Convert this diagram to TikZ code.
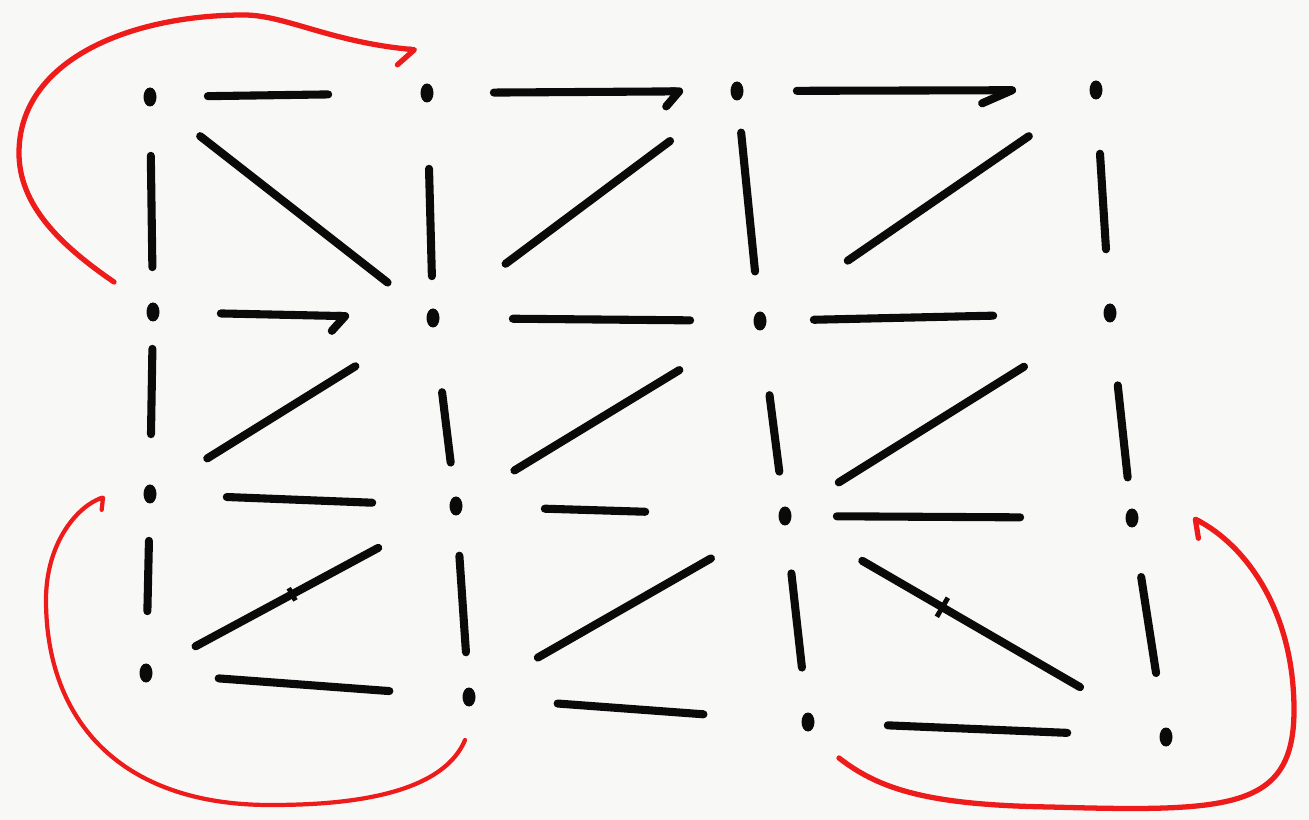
\documentclass[tikz,border=0pt]{standalone}
\usepackage{xcolor}
\definecolor{cInk}{HTML}{0A0A0A}
\definecolor{cPen}{HTML}{EE1B1B}
\definecolor{cPaper}{HTML}{F8F8F7}
\usepackage{tikz}
\usetikzlibrary{arrows.meta,shapes.geometric}
\tikzset{
  node-dot/.style={ellipse,fill=cInk,inner sep=0pt,
    minimum width=2.6mm,minimum height=3.8mm},
  % gaps at both ends in sketch pixels (1px = 0.2mm)
  edge-line/.style 2 args={draw=cInk,line width=4.6pt,line cap=round,
    shorten <={#1*0.2mm},shorten >={#2*0.2mm}},
  tip-hook/.style={-{Straight Barb[right,round,length=2.6mm,width=6mm]}},
  tip-barb/.style={-{Straight Barb[right,round,length=6mm,width=5.2mm]}},
  tick-mark/.style={sloped,draw=cInk,line width=2.8pt,inner sep=0pt,
    minimum width=0pt,minimum height=4.4mm},
  arc-red/.style={draw=cPen,line width=3pt,line cap=round},
}

\begin{document}
\begin{tikzpicture}[x=0.2mm,y=-0.2mm]
  \useasboundingbox (0,0) rectangle (1309,820);
  \fill[cPaper] (0,0) rectangle (1309,820);

  \node[node-dot] (d11) at (150,97) {};
  \node[node-dot] (d12) at (427,93) {};
  \node[node-dot] (d13) at (737,91) {};
  \node[node-dot] (d14) at (1096,90) {};
  \node[node-dot] (d21) at (153,312) {};
  \node[node-dot] (d22) at (433,318) {};
  \node[node-dot] (d23) at (760,321) {};
  \node[node-dot] (d24) at (1110,313) {};
  \node[node-dot] (d31) at (150,494) {};
  \node[node-dot] (d32) at (456,506) {};
  \node[node-dot] (d33) at (785,516) {};
  \node[node-dot] (d34) at (1132,518) {};
  \node[node-dot] (d41) at (146,673) {};
  \node[node-dot] (d42) at (469,697) {};
  \node[node-dot] (d43) at (808,722) {};
  \node[node-dot] (d44) at (1166,737) {};

  % rows
  \draw[edge-line={51}{92}] (d11) -- (d12);
  \draw[edge-line={60}{47},tip-hook] (d12) -- (d13);
  \draw[edge-line={53}{73},tip-barb] (d13) -- (d14);
  \draw[edge-line={61}{77},tip-hook] (d21) -- (d22);
  \draw[edge-line={73}{63}] (d22) -- (d23);
  \draw[edge-line={47}{110}] (d23) -- (d24);
  \draw[edge-line={70}{77}] (d31) -- (d32);
  \draw[edge-line={82}{133}] (d32) -- (d33);
  \draw[edge-line={45}{105}] (d33) -- (d34);
  \draw[edge-line={66}{73}] (d41) -- (d42);
  \draw[edge-line={82}{98}] (d42) -- (d43);
  \draw[edge-line={73}{92}] (d43) -- (d44);

  % columns
  \draw[edge-line={49}{35}] (d11) -- (d21);
  \draw[edge-line={66}{32}] (d12) -- (d22);
  \draw[edge-line={32}{40}] (d13) -- (d23);
  \draw[edge-line={54}{54}] (d14) -- (d24);
  \draw[edge-line={27}{50}] (d21) -- (d31);
  \draw[edge-line={65}{34}] (d22) -- (d32);
  \draw[edge-line={65}{35}] (d23) -- (d33);
  \draw[edge-line={63}{31}] (d24) -- (d34);
  \draw[edge-line={37}{52}] (d31) -- (d41);
  \draw[edge-line={40}{35}] (d32) -- (d42);
  \draw[edge-line={48}{45}] (d33) -- (d43);
  \draw[edge-line={50}{55}] (d34) -- (d44);

  % diagonals
  \draw[edge-line={56}{50}] (d11) -- (d22);
  \draw[edge-line={83}{76}] (d22) -- (d13);
  \draw[edge-line={99}{74}] (d23) -- (d14);
  \draw[edge-line={60}{84}] (d31) -- (d22);
  \draw[edge-line={61}{87}] (d32) -- (d23);
  \draw[edge-line={56}{94}] (d33) -- (d24);
  \draw[edge-line={49}{81}] (d41) -- node[tick-mark,pos=.47,minimum height=2.8mm]{} (d32);
  \draw[edge-line={72}{78}] (d42) -- (d33);
  \draw[edge-line={82}{92}] (d33) -- node[tick-mark,pos=.41]{} (d44);

  % red loops
  \coordinate (loopA-from) at (114,282);
  \coordinate (loopA-to) at (417,50);
  \coordinate (loopB-from) at (465,740);
  \coordinate (loopB-to) at (105,497);
  \coordinate (loopC-from) at (839,758);
  \coordinate (loopC-to) at (1193,518);
  \draw[arc-red,-{Straight Barb[right,round,length=3.1mm,width=6.6mm]}]
    (loopA-from) .. controls (60,245) and (19,205) .. (19,153)
    .. controls (19,60) and (130,15) .. (244,15)
    .. controls (285,15) and (330,42) .. (loopA-to);
  \draw[arc-red,line width=2.4pt,-{Straight Barb[right,round,length=1mm,width=4.5mm]}]
    (loopB-from) .. controls (440,800) and (330,805) .. (270,805)
    .. controls (120,805) and (46,720) .. (46,600)
    .. controls (46,540) and (80,505) .. (loopB-to);
  \draw[arc-red,-{Straight Barb[left,round,length=2.3mm,width=6.2mm]}]
    (loopC-from) .. controls (880,790) and (930,805) .. (1050,807)
    .. controls (1230,812) and (1294,810) .. (1294,710)
    .. controls (1294,610) and (1245,545) .. (loopC-to);
\end{tikzpicture}
\end{document}
